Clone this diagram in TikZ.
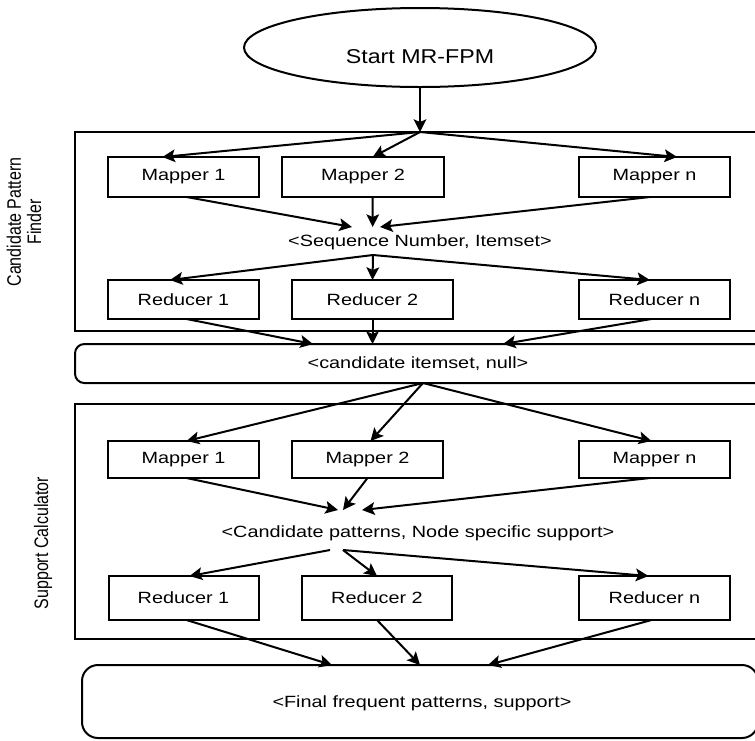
\documentclass[tikz,border=0pt]{standalone}
\usepackage{fontspec}
\setmainfont{Liberation Sans}
\usetikzlibrary{arrows.meta,shapes.geometric,calc}

% wide lettering used throughout the chart
\newcommand{\wtxt}[1]{\scalebox{1.22}[1]{#1}}
\newcommand{\wtall}[1]{\scalebox{1}[1.22]{#1}}

\begin{document}
\begin{tikzpicture}[x=0.75pt,y=-0.75pt,
  line width=1.5pt,
  arr/.style={-{Stealth[length=9.5pt,width=9.5pt,inset=2pt]}},
  lbl/.style={inner sep=0pt, font=\fontsize{12.2}{14}\selectfont},
  box/.style={draw, rectangle, inner sep=0pt, outer sep=0pt,
              minimum width=151*0.75pt, font=\fontsize{12.2}{14}\selectfont},
  side/.style={rotate=90, inner sep=0pt, font=\fontsize{12}{12.3}\selectfont}
]
\clip (0,0) rectangle (755,740);

% start terminal
\node[draw, ellipse, inner sep=0pt, outer sep=0pt,
      minimum width=352*0.75pt, minimum height=79*0.75pt] (start) at (420,47.5) {};
\node[inner sep=0pt, font=\fontsize{15}{17}\selectfont] (starttxt) at (420,57)
  {\scalebox{1.16}[1]{Start MR-FPM}};

% phase containers
\draw (75,132) rectangle (775,331);
\draw (75,404) rectangle (775,639);
\draw[rounded corners=7pt] (75,344) rectangle (780,383);
\draw[rounded corners=12pt] (82,665) rectangle (758,738);

% phase titles
\node[side] (cpf) at (27,222)
  {\wtall{\begin{tabular}{@{}c@{}}Candidate Pattern\\Finder\end{tabular}}};
\node[side] (sc) at (43,543) {\wtall{Support Calculator}};

% first job
\node[box, minimum height=40*0.75pt] (m1a) at (183.5,177) {\wtxt{Mapper 1}};
\node[box, minimum width=162*0.75pt, minimum height=40*0.75pt] (m2a) at (363,177) {\wtxt{Mapper 2}};
\node[box, minimum height=40*0.75pt] (mna) at (654.5,177) {\wtxt{Mapper n}};
\node[lbl] (seq) at (420,242) {\wtxt{<Sequence Number, Itemset>}};
\node[box, minimum height=39*0.75pt] (r1a) at (183.5,299.5) {\wtxt{Reducer 1}};
\node[box, minimum width=161*0.75pt, minimum height=39*0.75pt] (r2a) at (372.5,299.5) {\wtxt{Reducer 2}};
\node[box, minimum height=39*0.75pt] (rna) at (654.5,299.5) {\wtxt{Reducer n}};
\node[lbl] (cand) at (418,364) {\wtxt{<candidate itemset, null>}};

% second job
\node[box, minimum height=37*0.75pt] (m1b) at (183.5,459.5) {\wtxt{Mapper 1}};
\node[box, minimum height=37*0.75pt] (m2b) at (367.5,459.5) {\wtxt{Mapper 2}};
\node[box, minimum height=37*0.75pt] (mnb) at (654.5,459.5) {\wtxt{Mapper n}};
\node[lbl] (cps) at (418,533) {\wtxt{<Candidate patterns, Node specific support>}};
\node[box, minimum width=150*0.75pt, minimum height=44*0.75pt] (r1b) at (183.5,598) {\wtxt{Reducer 1}};
\node[box, minimum width=150*0.75pt, minimum height=44*0.75pt] (r2b) at (377,598) {\wtxt{Reducer 2}};
\node[box, minimum height=44*0.75pt] (rnb) at (654.5,598) {\wtxt{Reducer n}};
\node[lbl] (fin) at (422,703) {\wtxt{<Final frequent patterns, support>}};

% junction points of the flow
\coordinate (hub1) at (420,132);
\coordinate (hub2) at (373,255);
\coordinate (hub3) at (423,383);
\coordinate (hub4a) at (330,550);
\coordinate (hub4b) at (343,550);
\coordinate (sqL) at (352,227);
\coordinate (sqM) at (372.7,227);
\coordinate (sqR) at (380,227);
\coordinate (cdL) at (313,344);
\coordinate (cdM) at (372.5,344);
\coordinate (cdR) at (503,344);
\coordinate (cpL) at (338,510);
\coordinate (cpM) at (343,510);
\coordinate (cpR) at (362,510);
\coordinate (fnL) at (332,665);
\coordinate (fnM) at (420,665);
\coordinate (fnR) at (488,665);

% start -> first job
\draw[arr] (start.south) -- (hub1);
\draw[arr] (hub1) -- ($(m1a.north west)!0.36!(m1a.north east)$);
\draw[arr] (hub1) -- ($(m2a.north west)!0.56!(m2a.north east)$);
\draw[arr] (hub1) -- ($(mna.north west)!0.65!(mna.north east)$);
\draw[arr] ($(m1a.south west)!0.52!(m1a.south east)$) -- (sqL);
\draw[arr] ($(m2a.south west)!0.56!(m2a.south east)$) -- (sqM);
\draw[arr] ($(mna.south west)!0.47!(mna.south east)$) -- (sqR);
\draw[arr] (hub2) -- ($(r1a.north west)!0.41!(r1a.north east)$);
\draw[arr] (hub2) -- ($(r2a.north west)!0.5!(r2a.north east)$);
\draw[arr] (hub2) -- ($(rna.north west)!0.47!(rna.north east)$);
\draw[arr] ($(r1a.south west)!0.52!(r1a.south east)$) -- (cdL);
\draw[arr] ($(r2a.south west)!0.5!(r2a.south east)$) -- (cdM);
\draw[arr] ($(rna.south west)!0.48!(rna.south east)$) -- (cdR);

% second job
\draw[arr] (hub3) -- ($(m1b.north west)!0.52!(m1b.north east)$);
\draw[arr] (hub3) -- ($(m2b.north west)!0.52!(m2b.north east)$);
\draw[arr] (hub3) -- ($(mnb.north west)!0.48!(mnb.north east)$);
\draw[arr] ($(m1b.south west)!0.52!(m1b.south east)$) -- (cpL);
\draw[arr] ($(m2b.south west)!0.5!(m2b.south east)$) -- (cpM);
\draw[arr] ($(mnb.south west)!0.47!(mnb.south east)$) -- (cpR);
\draw[arr] (hub4a) -- ($(r1b.north west)!0.54!(r1b.north east)$);
\draw[arr] (hub4b) -- ($(r2b.north west)!0.5!(r2b.north east)$);
\draw[arr] (hub4b) -- ($(rnb.north west)!0.46!(rnb.north east)$);
\draw[arr] ($(r1b.south west)!0.52!(r1b.south east)$) -- (fnL);
\draw[arr] ($(r2b.south west)!0.5!(r2b.south east)$) -- (fnM);
\draw[arr] ($(rnb.south west)!0.48!(rnb.south east)$) -- (fnR);
\end{tikzpicture}
\end{document}
